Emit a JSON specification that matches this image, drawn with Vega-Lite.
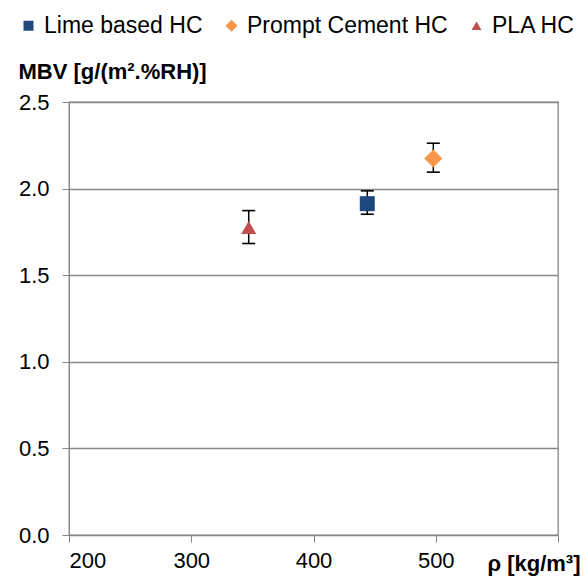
{
  "$schema": "https://vega.github.io/schema/vega-lite/v6.json",
  "autosize": {"type": "none"},
  "width": 489,
  "height": 433,
  "padding": {"left": 69, "top": 102, "right": 25, "bottom": 43},
  "config": {
    "font": "Liberation Sans",
    "view": {"stroke": "#878787", "strokeWidth": 1.3},
    "axis": {"labelFont": "Liberation Sans", "titleFont": "Liberation Sans"}
  },
  "data": {
    "values": [
      {"series": "Lime based HC", "rho": 444, "mbv": 1.913, "lo": 1.852, "hi": 1.987},
      {"series": "Prompt Cement HC", "rho": 498, "mbv": 2.174, "lo": 2.095, "hi": 2.262},
      {"series": "PLA HC", "rho": 347, "mbv": 1.776, "lo": 1.683, "hi": 1.873}
    ]
  },
  "encoding": {
    "x": {
      "field": "rho",
      "type": "quantitative",
      "scale": {"domain": [200, 600], "nice": false, "zero": false},
      "axis": {
        "values": [200, 300, 400, 500, 600],
        "labelExpr": "datum.value == 600 ? '' : datum.label",
        "grid": false,
        "tickSize": 7,
        "tickColor": "#878787",
        "domainColor": "#878787",
        "labelFontSize": 22,
        "labelColor": "#000000",
        "labelPadding": 8,
        "title": "ρ [kg/m³]",
        "titleFontSize": 22,
        "titleFontWeight": "bold",
        "titleColor": "#000000",
        "titleAnchor": "end",
        "titleAlign": "right",
        "titleBaseline": "alphabetic",
        "titleX": 511,
        "titleY": 35
      }
    }
  },
  "layer": [
    {
      "mark": {"type": "rule", "color": "#000000", "strokeWidth": 1.5},
      "encoding": {
        "y": {"field": "lo", "type": "quantitative"},
        "y2": {"field": "hi"}
      }
    },
    {
      "mark": {"type": "tick", "orient": "horizontal", "color": "#000000", "size": 13, "thickness": 1.6, "opacity": 1},
      "encoding": {"y": {"field": "lo", "type": "quantitative"}}
    },
    {
      "mark": {"type": "tick", "orient": "horizontal", "color": "#000000", "size": 13, "thickness": 1.6, "opacity": 1},
      "encoding": {"y": {"field": "hi", "type": "quantitative"}}
    },
    {
      "mark": {"type": "point", "filled": true, "opacity": 1, "size": 225},
      "encoding": {
        "y": {
          "field": "mbv",
          "type": "quantitative",
          "scale": {"domain": [0, 2.5], "nice": false},
          "axis": {
            "values": [0, 0.5, 1, 1.5, 2, 2.5],
            "format": ".1f",
            "grid": true,
            "gridColor": "#878787",
            "gridWidth": 1.3,
            "tickSize": 7,
            "tickColor": "#878787",
            "domainColor": "#878787",
            "labelFontSize": 22,
            "labelColor": "#000000",
            "labelPadding": 13,
            "title": "MBV [g/(m².%RH)]",
            "titleFontSize": 22,
            "titleFontWeight": "bold",
            "titleColor": "#000000",
            "titleAngle": 0,
            "titleAlign": "left",
            "titleBaseline": "alphabetic",
            "titleX": -51,
            "titleY": -24
          }
        },
        "color": {
          "field": "series",
          "type": "nominal",
          "scale": {
            "domain": ["Lime based HC", "Prompt Cement HC", "PLA HC"],
            "range": ["#1F497D", "#F79646", "#C0504D"]
          },
          "legend": {
            "title": null,
            "orient": "none",
            "direction": "horizontal",
            "legendX": -52,
            "legendY": -88,
            "padding": 0,
            "labelFontSize": 23,
            "labelLimit": 400,
            "labelColor": "#000000",
            "labelOffset": 4,
            "symbolSize": 100,
            "columnPadding": 17,
            "symbolStrokeWidth": 0
          }
        },
        "shape": {
          "field": "series",
          "type": "nominal",
          "scale": {
            "domain": ["Lime based HC", "Prompt Cement HC", "PLA HC"],
            "range": ["square", "M0,-1.2L1.2,0L0,1.2L-1.2,0Z", "triangle-up"]
          }
        }
      }
    }
  ]
}
